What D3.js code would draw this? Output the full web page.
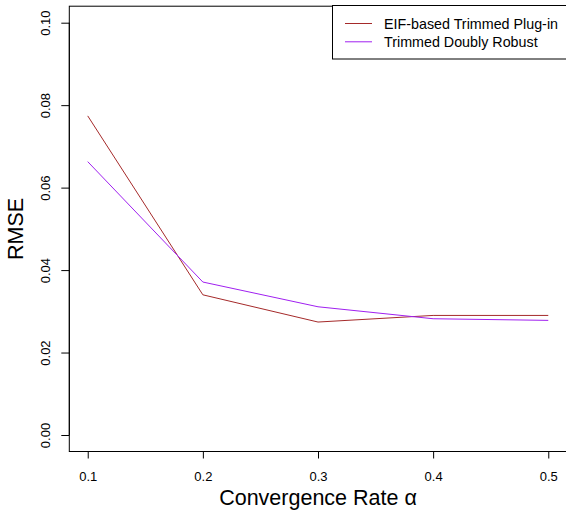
<!DOCTYPE html>
<html>
<head>
<meta charset="utf-8">
<script src="https://cdn.jsdelivr.net/npm/d3@7"></script>
<style>
html,body{margin:0;padding:0;background:#fff;}
svg{display:block;font-family:"Liberation Sans",Arial,sans-serif;}
</style>
</head>
<body>
<svg id="chart" width="566" height="513"></svg>
<script>
const alphas = [0.1, 0.2, 0.3, 0.4, 0.5];
const plugIn = [0.0774, 0.0340, 0.0274, 0.0290, 0.0290];
const doublyRobust = [0.0663, 0.0371, 0.0311, 0.0282, 0.0278];
const seriesNames = ["EIF-based Trimmed Plug-in", "Trimmed Doubly Robust"];
const seriesColors = ["#A52A2A", "#A020F0"];
const xTicks = [0.1, 0.2, 0.3, 0.4, 0.5];
const yTicks = [0.00, 0.02, 0.04, 0.06, 0.08, 0.10];

const svg = d3.select("#chart");
const pLeft = 69.3, pRight = 566.7, pTop = 6.2, pBottom = 451.5;

const x = d3.scaleLinear().domain([0.084, 0.516]).range([pLeft, pRight]);
const y = d3.scaleLinear().domain([-0.004, 0.104]).range([pBottom, pTop]);

// box
svg.append("rect").attr("x", pLeft).attr("y", pTop)
  .attr("width", pRight - pLeft).attr("height", pBottom - pTop)
  .attr("fill", "none").attr("stroke", "#000").attr("stroke-width", 1);

// x axis
const xAxis = d3.axisBottom(x).tickValues(xTicks).tickSize(7).tickPadding(0)
  .tickFormat(d3.format(".1f"));
const gx = svg.append("g").attr("transform", `translate(0,${pBottom})`).call(xAxis);
gx.select(".domain").attr("d", `M${x(xTicks[0])},0H${x(xTicks[xTicks.length-1])}`);
gx.selectAll("text").attr("y", 29.5).attr("dy", null).attr("font-size", 13)
  .attr("font-family", "Liberation Sans, Arial, sans-serif").attr("fill", "#000");

// y axis
const yAxis = d3.axisLeft(y).tickValues(yTicks).tickSize(8).tickPadding(0)
  .tickFormat(d3.format(".2f"));
const gy = svg.append("g").attr("transform", `translate(${pLeft},0)`).call(yAxis);
gy.select(".domain").attr("d", `M0,${y(yTicks[0])}V${y(yTicks[yTicks.length-1])}`);
gy.selectAll(".tick text")
  .attr("x", null).attr("dy", null)
  .attr("text-anchor", "middle")
  .attr("transform", "translate(-19.5,0) rotate(-90)")
  .attr("font-size", 13)
  .attr("font-family", "Liberation Sans, Arial, sans-serif").attr("fill", "#000");

// axis titles
svg.append("text").attr("x", (pLeft + pRight) / 2).attr("y", 505)
  .attr("text-anchor", "middle").attr("font-size", 21.5).attr("fill", "#000")
  .text("Convergence Rate α");
svg.append("text").attr("transform", `translate(23,${(pTop + pBottom) / 2}) rotate(-90)`)
  .attr("text-anchor", "middle").attr("font-size", 21.5).attr("fill", "#000")
  .text("RMSE");

// lines
const line = d3.line().x((d, i) => x(alphas[i])).y(d => y(d));
[plugIn, doublyRobust].forEach((s, k) => {
  svg.append("path").datum(s).attr("d", line).attr("fill", "none")
    .attr("stroke", seriesColors[k]).attr("stroke-width", 1);
});

// legend
const lg = svg.append("g");
lg.append("rect").attr("x", 332.5).attr("y", 5.5).attr("width", 250).attr("height", 53.5)
  .attr("fill", "#fff").attr("stroke", "#000").attr("stroke-width", 1);
seriesNames.forEach((n, k) => {
  const yy = 23.5 + k * 18.3;
  lg.append("line").attr("x1", 345).attr("x2", 372).attr("y1", yy).attr("y2", yy)
    .attr("stroke", seriesColors[k]).attr("stroke-width", 1);
  lg.append("text").attr("x", 384).attr("y", yy + 5).attr("font-size", 14.3)
    .attr("fill", "#000").text(n);
});
</script>
</body>
</html>
